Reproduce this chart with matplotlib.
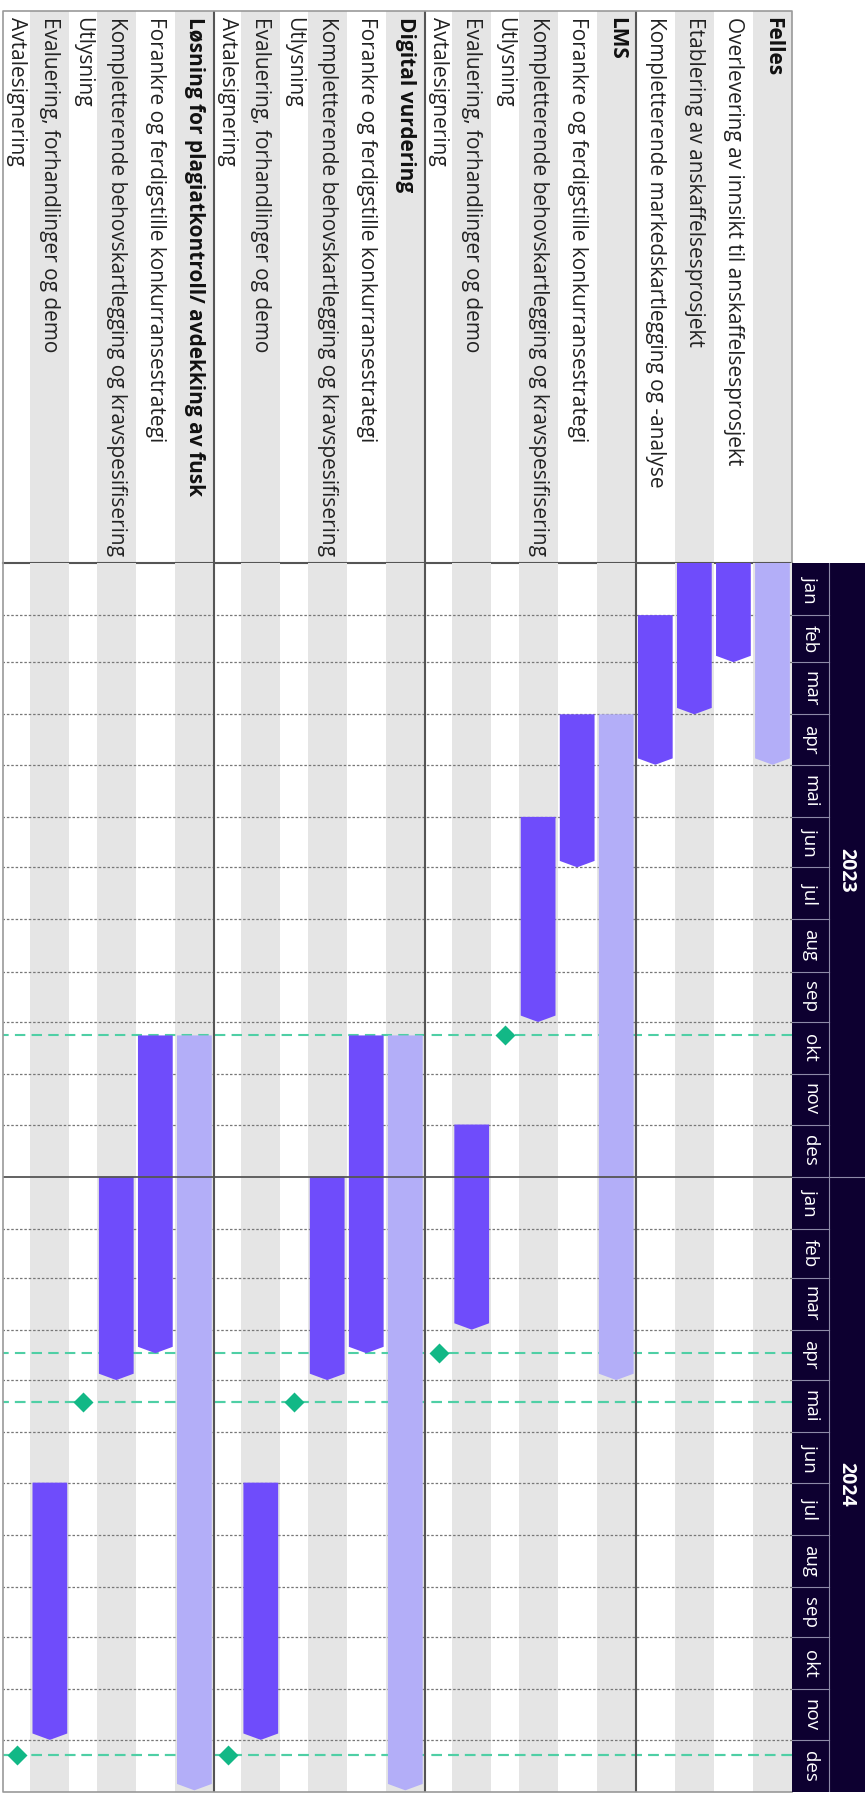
import datetime as dt
import matplotlib
matplotlib.use("Agg")
import matplotlib.pyplot as plt
import matplotlib.dates as mdates
from matplotlib.patches import Polygon, Rectangle

plt.rcParams['font.family'] = ['Open Sans', 'DejaVu Sans']

# rows of the plan, top (right side after rotation) to bottom
row_labels = [
    "Felles",
    "Overlevering av innsikt til anskaffelsesprosjekt",
    "Etablering av anskaffelsesprosjekt",
    "Kompletterende markedskartlegging og -analyse",
    "LMS",
    "Forankre og ferdigstille konkurransestrategi",
    "Kompletterende behovskartlegging og kravspesifisering",
    "Utlysning",
    "Evaluering, forhandlinger og demo",
    "Avtalesignering",
    "Digital vurdering",
    "Forankre og ferdigstille konkurransestrategi",
    "Kompletterende behovskartlegging og kravspesifisering",
    "Utlysning",
    "Evaluering, forhandlinger og demo",
    "Avtalesignering",
    "Løsning for plagiatkontroll/ avdekking av fusk",
    "Forankre og ferdigstille konkurransestrategi",
    "Kompletterende behovskartlegging og kravspesifisering",
    "Utlysning",
    "Evaluering, forhandlinger og demo",
    "Avtalesignering",
]
row_kind = [
    "group", "task", "task", "task",
    "group", "task", "task", "milestone", "task", "milestone",
    "group", "task", "task", "milestone", "task", "milestone",
    "group", "task", "task", "milestone", "task", "milestone",
]
start_dates = [
    "2023-01-01", "2023-01-01", "2023-01-01", "2023-02-01",
    "2023-04-01", "2023-04-01", "2023-06-01", "2023-10-09", "2023-12-01", "2024-04-15",
    "2023-10-09", "2023-10-09", "2024-01-01", "2024-05-14", "2024-07-01", "2024-12-10",
    "2023-10-09", "2023-10-09", "2024-01-01", "2024-05-14", "2024-07-01", "2024-12-10",
]
end_dates = [
    "2023-05-01", "2023-03-01", "2023-04-01", "2023-05-01",
    "2024-05-01", "2023-07-01", "2023-10-01", None, "2024-04-01", None,
    "2024-12-31", "2024-04-15", "2024-05-01", None, "2024-12-01", None,
    "2024-12-31", "2024-04-15", "2024-05-01", None, "2024-12-01", None,
]
month_names = ["jan", "feb", "mar", "apr", "mai", "jun",
               "jul", "aug", "sep", "okt", "nov", "des"]
years = [2023, 2024]

GRAY = "#e5e5e5"
SUMMARY = "#b3aef8"
TASK = "#6f4cfb"
DIAMOND = "#12b886"
MLINE = "#4fcfa5"
NAVY = "#0d0030"
SEP = "#555555"


def dnum(s):
    return mdates.date2num(dt.datetime.strptime(s, "%Y-%m-%d"))


W, H = 868, 1794
fig = plt.figure(figsize=(W / 100, H / 100), dpi=100)


def box(x0, y0, x1, y1):
    return [x0 / W, 1 - y1 / H, (x1 - x0) / W, (y1 - y0) / H]


ax_lab = fig.add_axes(box(3, 11, 792, 563))
ax = fig.add_axes(box(3, 563, 792, 1792))
ax_hd = fig.add_axes(box(792, 563, 865, 1792))

# row positions (x grows to the left)
heights = [0.7 if k == "milestone" else 1.0 for k in row_kind]
pos = []
acc = 0.0
for h in heights:
    pos.append(acc)
    acc += h
total = acc

t0 = dnum("2023-01-01")
t1 = dnum("2025-01-01")

for a in (ax, ax_lab):
    a.set_xlim(total, 0)
    a.axis("off")
ax.set_ylim(t1, t0)
ax_lab.set_ylim(552, 0)

# alternating bands
for i, (p, h) in enumerate(zip(pos, heights)):
    if i % 2 == 0:
        for a, lo, hi in ((ax, t0, t1), (ax_lab, 0, 552)):
            a.add_patch(Rectangle((p, lo), h, hi - lo, color=GRAY, lw=0, zorder=0))
    weight = "bold" if row_kind[i] == "group" else "normal"
    ax_lab.text(p + h / 2, 6, row_labels[i], rotation=270, ha="center", va="top",
                fontsize=15, fontweight=weight,
                color="#111111" if weight == "bold" else "#222222")

# month grid
month_starts = []
for y in years:
    for m in range(1, 13):
        month_starts.append(mdates.date2num(dt.datetime(y, m, 1)))
month_starts.append(t1)
for ms in month_starts[1:-1]:
    if ms == dnum("2024-01-01"):
        ax.plot([0, total], [ms, ms], color=SEP, lw=1.3, zorder=5)
    else:
        ax.plot([0, total], [ms, ms], color="#777777", lw=0.9,
                ls=(0, (2, 1.5)), zorder=1)

# bars and milestones
tip = 3.8
mg = 0.055
for i, kind in enumerate(row_kind):
    p, h = pos[i], heights[i]
    s = dnum(start_dates[i])
    xc = p + h / 2
    if kind == "milestone":
        ax.plot([0, total], [s, s], color=MLINE, lw=1.5, ls=(0, (5, 3)), zorder=2)
        ax.plot([xc], [s], marker="D", ms=10, color=DIAMOND, mec="none",
                zorder=4, clip_on=False)
        continue
    e = dnum(end_dates[i])
    xa, xb = p + mg, p + h - mg
    pts = [(xa, s), (xb, s), (xb, e - tip), (xc, e), (xa, e - tip)]
    col = SUMMARY if kind == "group" else TASK
    ax.add_patch(Polygon(pts, closed=True, color=col, lw=0, zorder=3))

# section separators and borders
groups = [pos[i] for i, k in enumerate(row_kind) if k == "group"][1:]
for g in groups:
    ax.plot([g, g], [t0, t1], color=SEP, lw=1.5, zorder=6)
    ax_lab.plot([g, g], [0, 552], color=SEP, lw=1.5, zorder=6)
ax_lab.plot([0, total], [552, 552], color=SEP, lw=1.5, zorder=6, clip_on=False)
ax_lab.plot([total, total, 0, 0], [552, 0, 0, 552], color="#999999", lw=1.2,
            zorder=6, clip_on=False)
ax.plot([total, total, 0], [t0, t1, t1], color="#999999", lw=1.2, zorder=6,
        clip_on=False)

# header column
ax_hd.set_xlim(0, 2)
ax_hd.set_ylim(t1, t0)
ax_hd.axis("off")
ax_hd.add_patch(Rectangle((0, t0), 2, t1 - t0, color=NAVY, lw=0, zorder=0))
ax_hd.plot([1, 1], [t0, t1], color="#8d8aa8", lw=0.8)
for k in range(24):
    a_, b_ = month_starts[k], month_starts[k + 1]
    ax_hd.text(0.5, (a_ + b_) / 2, month_names[k % 12], rotation=270,
               ha="center", va="center", color="white", fontsize=13.5)
    if k > 0:
        xe = 2 if k % 12 == 0 else 1
        ax_hd.plot([0, xe], [a_, a_], color="#8d8aa8", lw=0.8)
for y in years:
    a_ = mdates.date2num(dt.datetime(y, 1, 1))
    b_ = mdates.date2num(dt.datetime(y + 1, 1, 1))
    ax_hd.text(1.5, (a_ + b_) / 2, str(y), rotation=270, ha="center",
               va="center", color="white", fontsize=14, fontweight="bold")

fig.savefig("out.png", dpi=100)
